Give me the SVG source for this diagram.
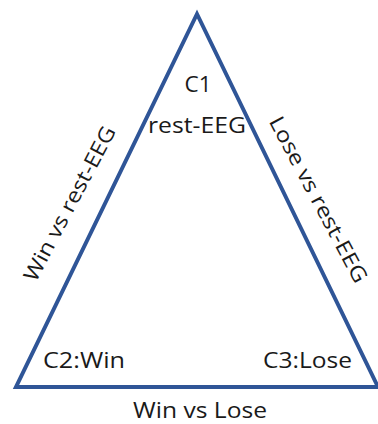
<svg xmlns="http://www.w3.org/2000/svg" width="378" height="424" viewBox="0 0 378 424">
  <style>
    .edge { fill: none; stroke: #2F5597; stroke-width: 4; stroke-linejoin: miter; stroke-miterlimit: 10; }
    .lbl { font-family: "Open Sans", "Noto Sans", "Liberation Sans", sans-serif; font-size: 21px; fill: #1a1a1a; }
  </style>
  <rect width="378" height="424" fill="#ffffff"/>
  <!-- triangle edges -->
  <g id="connectors">
    <polygon class="edge" points="197,14 378,387 16,387"/>
  </g>
  <g id="c1">
    <text class="lbl" x="198" y="92" text-anchor="middle" textLength="27" lengthAdjust="spacingAndGlyphs">C1</text>
    <text class="lbl" x="197" y="133" text-anchor="middle" textLength="98" lengthAdjust="spacingAndGlyphs">rest-EEG</text>
  </g>
  <g id="c2">
    <text class="lbl" x="43" y="368" textLength="82" lengthAdjust="spacingAndGlyphs">C2:Win</text>
  </g>
  <g id="c3">
    <text class="lbl" x="263" y="368" textLength="89" lengthAdjust="spacingAndGlyphs">C3:Lose</text>
  </g>
  <g id="edge-labels">
    <text class="lbl" x="200" y="418" text-anchor="middle" textLength="134" lengthAdjust="spacingAndGlyphs">Win vs Lose</text>
    <text class="lbl" transform="translate(76,207) rotate(-62)" text-anchor="middle" textLength="172" lengthAdjust="spacingAndGlyphs" font-size="22">Win vs rest-EEG</text>
    <text class="lbl" transform="translate(312,203) rotate(62)" text-anchor="middle" textLength="185" lengthAdjust="spacingAndGlyphs" font-size="22">Lose vs rest-EEG</text>
  </g>
</svg>
